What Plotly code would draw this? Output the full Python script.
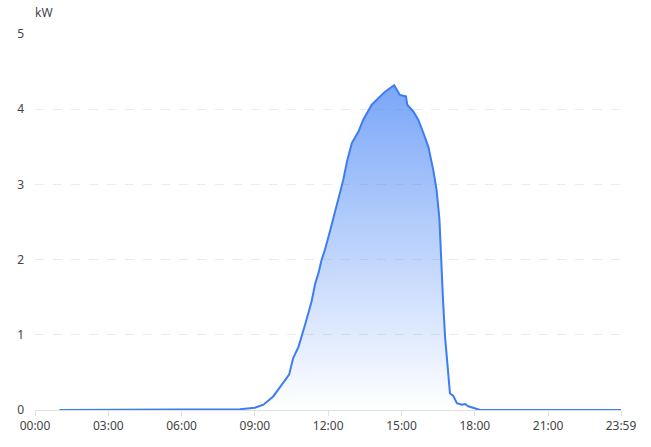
import plotly.graph_objects as go

times = ["01:00", "08:00", "08:23", "09:00", "09:21", "09:45", "10:06", "10:24", "10:34", "10:47",
         "11:03", "11:19", "11:28", "11:36", "11:44", "11:52", "12:04", "12:13", "12:24", "12:37",
         "12:46", "12:58", "13:14", "13:26", "13:47", "14:03", "14:19", "14:42", "14:56", "15:11",
         "15:14", "15:29", "15:41", "15:54", "16:06", "16:18", "16:26", "16:33", "16:37", "16:42",
         "16:47", "16:54", "16:59", "17:07", "17:16", "17:28", "17:36", "17:44", "18:00", "18:13",
         "23:59"]
power_kw = [0.0, 0.0, 0.01, 0.03, 0.07, 0.18, 0.33, 0.47, 0.69, 0.84,
            1.13, 1.44, 1.68, 1.82, 2.0, 2.13, 2.37, 2.55, 2.80, 3.06,
            3.30, 3.55, 3.70, 3.86, 4.06, 4.14, 4.23, 4.32, 4.19, 4.17,
            4.06, 3.97, 3.86, 3.68, 3.50, 3.19, 2.93, 2.55, 2.0, 1.46,
            0.97, 0.53, 0.22, 0.19, 0.09, 0.07, 0.08, 0.05, 0.02, 0.0,
            0.0]
tick_labels = ["00:00", "03:00", "06:00", "09:00", "12:00", "15:00", "18:00", "21:00", "23:59"]
y_ticks = [0, 1, 2, 3, 4, 5]


def to_min(s):
    h, m = s.split(":")
    return int(h) * 60 + int(m)


x_min = [to_min(t) for t in times]
tick_vals = [to_min(t) for t in tick_labels]

fig = go.Figure()
fig.add_trace(go.Scatter(
    x=x_min, y=power_kw, mode="lines",
    line=dict(color="#3d7cf2", width=2),
    fill="tozeroy",
    fillgradient=dict(type="vertical",
                      colorscale=[[0, "rgba(59,125,245,0.0)"], [1, "rgba(59,125,245,0.68)"]]),
    hoverinfo="skip",
))

font = dict(family="Noto Sans, Open Sans, sans-serif", size=12, color="#444")
fig.update_layout(
    width=651, height=447,
    margin=dict(l=35, r=30, t=34, b=37, autoexpand=False),
    paper_bgcolor="white", plot_bgcolor="white",
    showlegend=False, font=font,
    xaxis=dict(range=[0, 1439], tickvals=tick_vals, ticktext=tick_labels, automargin=False,
               showgrid=False, zeroline=False, showline=True, linecolor="#e0e0e0", linewidth=1,
               ticks="outside", ticklen=5, tickcolor="#e0e0e0", tickfont=font),
    yaxis=dict(range=[0, 5], tickvals=y_ticks, showgrid=True, gridcolor="#ececec", automargin=False,
               griddash="dash", gridwidth=1, zeroline=False, showline=False,
               ticks="", tickfont=font, ticklabelstandoff=10),
    annotations=[dict(text="kW", x=0, xref="paper", xanchor="left", y=1, yref="paper",
                      yanchor="bottom", yshift=11, xshift=-2, showarrow=False, font=font)],
)

fig.write_html("out.html", config={"displayModeBar": False},
               post_script="document.body.style.margin='0';")
